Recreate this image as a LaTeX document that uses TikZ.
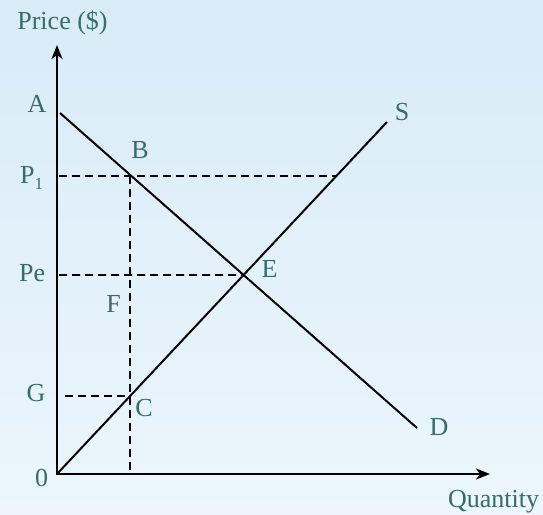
\documentclass[tikz,border=0pt]{standalone}
\usepackage{fontspec}
\setmainfont{Liberation Serif}
\usetikzlibrary{arrows.meta,calc}
\definecolor{labelcol}{RGB}{56,108,104}
\definecolor{bgtop}{RGB}{216,235,247}
\definecolor{bgbot}{RGB}{236,246,252}
\begin{document}
\begin{tikzpicture}[x=1pt,y=-1pt,
  lbl/.style={text=labelcol,font=\fontsize{26}{30}\selectfont,inner sep=0pt,anchor=base},
  axisline/.style={line width=2.4pt,-{Stealth[length=14pt,width=11pt,inset=4pt]}},
  curveline/.style={line width=2pt},
  guide/.style={line width=1.8pt,dash pattern=on 8pt off 5pt}]
\useasboundingbox (0,0) rectangle (543,514);
\shade[top color=bgtop,bottom color=bgbot] (0,0) rectangle (543,514);
% key points
\coordinate (O) at (57,474);
\coordinate (ytip) at (57,45);
\coordinate (xtip) at (490,474);
\coordinate (Dstart) at (60,113);
\coordinate (Dend) at (417,428);
\coordinate (Send) at (387,122);
\coordinate (E) at (intersection of Dstart--Dend and O--Send);
\coordinate (B) at (130,176);
\coordinate (Bfoot) at (130,474);
\coordinate (C) at (130,396);
\coordinate (P1start) at (59,176);
\coordinate (P1end) at (337,176);
\coordinate (Pestart) at (59,275);
\coordinate (Gstart) at (65,396);
% dashed guides
\draw[guide] (P1start) -- (P1end);
\draw[guide] (Pestart) -- (E);
\draw[guide] (Gstart) -- (C);
\draw[guide] (B) -- (Bfoot);
% curves
\draw[curveline] (Dstart) -- (Dend);
\draw[curveline] (O) -- (Send);
% axes
\draw[axisline] ([yshift=1.2pt]O) -- (ytip);
\draw[axisline] ([xshift=-1.2pt]O) -- (xtip);
% labels
\node[lbl] (lprice) at (62.5,29) {Price (\$)};
\node[lbl] (lqty) at (493.5,507) {Quantity};
\node[lbl] (lA) at (37,112) {A};
\node[lbl] (lB) at (140,158) {B};
\node[lbl,anchor=base west] (lP1) at (20,183) {P\raisebox{-6pt}{\fontsize{17}{20}\selectfont 1}};
\node[lbl,anchor=base west] (lPe) at (19,281) {Pe};
\node[lbl] (lF) at (113.5,312) {F};
\node[lbl] (lG) at (36,401) {G};
\node[lbl] (lC) at (144,416) {C};
\node[lbl] (l0) at (41.5,486) {0};
\node[lbl] (lS) at (402,120) {S};
\node[lbl] (lD) at (439,435) {D};
\node[lbl] (lE) at (269.5,277) {E};
\end{tikzpicture}
\end{document}
